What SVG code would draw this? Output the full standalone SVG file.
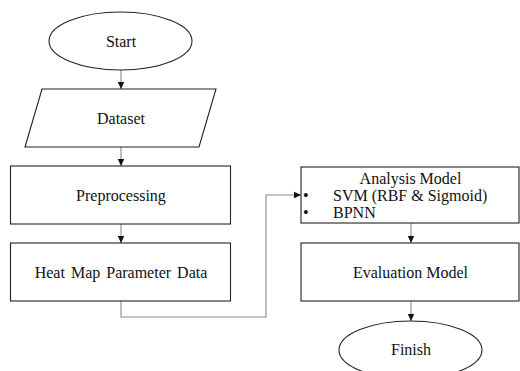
<svg xmlns="http://www.w3.org/2000/svg" width="520" height="371" viewBox="0 0 520 371">
<defs>
<style>
.s{fill:#fff;stroke:#222;stroke-width:1.1}
.t{font-family:'Liberation Serif','Times New Roman','DejaVu Serif',serif;font-size:16px;fill:#111;text-anchor:middle}
.tl{font-family:'Liberation Serif','Times New Roman','DejaVu Serif',serif;font-size:16px;fill:#111}
.c{fill:none;stroke:#8a8a8a;stroke-width:1.1}
</style>
<marker id="ah" markerWidth="8" markerHeight="8" refX="7" refY="4" orient="auto" markerUnits="userSpaceOnUse">
<path d="M0,0.8 L7,4 L0,7.2 Z" fill="#111"/>
</marker>
</defs>
<rect width="520" height="371" fill="#fff"/>
<g id="connectors">
<line class="c" x1="121" y1="70" x2="121" y2="89" marker-end="url(#ah)"/>
<line class="c" x1="121" y1="147" x2="121" y2="166" marker-end="url(#ah)"/>
<line class="c" x1="121" y1="224" x2="121" y2="243" marker-end="url(#ah)"/>
<polyline class="c" points="121,301 121,317 266,317 266,195 301,195" marker-end="url(#ah)"/>
<line class="c" x1="411" y1="223" x2="411" y2="243" marker-end="url(#ah)"/>
<line class="c" x1="411" y1="301" x2="411" y2="321" marker-end="url(#ah)"/>
</g>
<g id="start">
<ellipse class="s" cx="120.5" cy="41" rx="71.5" ry="29"/>
<text class="t" x="121" y="47">Start</text>
</g>
<g id="dataset">
<polygon class="s" points="42,89 216,89 199,147 25,147"/>
<text class="t" x="121" y="124">Dataset</text>
</g>
<g id="preprocessing">
<rect class="s" x="10.5" y="166" width="220" height="58"/>
<text class="t" x="121" y="201">Preprocessing</text>
</g>
<g id="heatmap">
<rect class="s" x="10.5" y="243" width="220" height="58"/>
<text class="t" x="121" y="278" word-spacing="2">Heat Map Parameter Data</text>
</g>
<g id="analysis">
<rect class="s" x="301" y="167" width="218" height="56"/>
<text class="t" x="410.5" y="184">Analysis Model</text>
<text class="tl" x="303" y="201" font-size="18">•</text>
<text class="tl" x="333" y="201">SVM (RBF &amp; Sigmoid)</text>
<text class="tl" x="303" y="218" font-size="18">•</text>
<text class="tl" x="333" y="218">BPNN</text>
</g>
<g id="evaluation">
<rect class="s" x="301" y="243" width="218" height="58"/>
<text class="t" x="410.5" y="278">Evaluation Model</text>
</g>
<g id="finish">
<ellipse class="s" cx="410.5" cy="350" rx="71.5" ry="29"/>
<text class="t" x="411" y="355">Finish</text>
</g>
</svg>
